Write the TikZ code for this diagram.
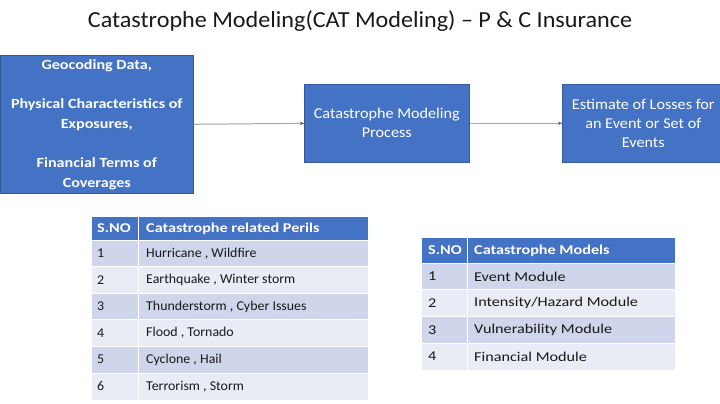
\documentclass[tikz,border=0pt]{standalone}
\usepackage{fontspec}
\setmainfont{Carlito}
\newfontfamily\titlefont[FakeStretch=1.05]{Carlito}
\newfontfamily\boxonefont[FakeStretch=1.15]{Carlito}
\newfontfamily\boxfont[FakeStretch=1.08]{Carlito}
\newfontfamily\tabonefont[FakeStretch=1.03]{Carlito}
\newfontfamily\tabwidefont[FakeStretch=1.2]{Carlito}
\usetikzlibrary{arrows.meta}
\definecolor{hdr}{HTML}{4472C4}
\definecolor{rowdark}{HTML}{CFD5EA}
\definecolor{rowlight}{HTML}{E9EBF5}
\definecolor{arrowgray}{HTML}{A6A6A6}
\tikzset{
  bluebox/.style={fill=hdr, draw=hdr!80!black, line width=0.6pt, text=white, align=center, inner sep=0pt},
  conn/.style={draw=arrowgray, line width=1pt, -{Stealth[length=4pt,width=3.5pt,color=gray!70!black]}},
  celltext/.style={anchor=west, inner sep=0pt, text=black!90},
  hdrtext/.style={anchor=west, inner sep=0pt, text=white},
}
\begin{document}
\begin{tikzpicture}[x=1pt,y=-1pt]
\useasboundingbox (0,0) rectangle (720,404);
\fill[white] (0,0) rectangle (720,404);

% title
\node[font=\titlefont\fontsize{23}{26}\selectfont, text=black!90, inner sep=0pt] (title) at (360,21) {Catastrophe Modeling(CAT Modeling) – P \& C Insurance};

% boxes
\node[bluebox, minimum width=193pt, minimum height=138pt, anchor=north west, font=\boxonefont\fontsize{14}{19.5}\selectfont\bfseries] (inputs) at (0,55)
 {Geocoding Data,\\[20pt] Physical Characteristics of\\ Exposures,\\[20pt] Financial Terms of\\ Coverages};
\node[bluebox, minimum width=165pt, minimum height=78pt, anchor=north west, font=\boxfont\fontsize{15}{19}\selectfont] (process) at (304,84)
 {Catastrophe Modeling\\ Process};
\node[bluebox, minimum width=162pt, minimum height=78pt, anchor=north west, font=\boxfont\fontsize{15}{19}\selectfont] (losses) at (562,84)
 {Estimate of Losses for\\ an Event or Set of\\ Events};

\draw[conn] (inputs.east) -- (process.west);
\draw[conn] (process.east) -- (losses.west);

% table 1
\fill[hdr] (92,217) rectangle (368,240);
\foreach \i/\c in {0/rowdark,1/rowlight,2/rowdark,3/rowlight,4/rowdark,5/rowlight}{
  \fill[\c] (92,{240+\i*26.6}) rectangle (368,{240+(\i+1)*26.6});
  \draw[white, line width=1pt] (92,{240+\i*26.6}) -- (368,{240+\i*26.6});
}
\draw[white, line width=1pt] (138,217) -- (138,400);
\node[hdrtext, font=\tabwidefont\fontsize{13.5}{15}\selectfont\bfseries] (t1h1) at (97,228.5) {S.NO};
\node[hdrtext, font=\tabwidefont\fontsize{13.5}{15}\selectfont\bfseries] (t1h2) at (146,228.5) {Catastrophe related Perils};
\foreach \i/\t in {1/{Hurricane , Wildfire},2/{Earthquake , Winter storm},3/{Thunderstorm , Cyber Issues},4/{Flood , Tornado},5/{Cyclone , Hail},6/{Terrorism , Storm}}{
  \node[celltext, font=\tabonefont\fontsize{13.5}{15}\selectfont] (t1n\i) at (97,{240+(\i-0.5)*26.6}) {\i};
  \node[celltext, font=\tabonefont\fontsize{13.5}{15}\selectfont] (t1t\i) at (146,{240+(\i-0.5)*26.6}) {\t};
}

% table 2
\fill[hdr] (422,238) rectangle (675,263);
\foreach \i/\c in {0/rowdark,1/rowlight,2/rowdark,3/rowlight}{
  \fill[\c] (422,{263+\i*26.75}) rectangle (675,{263+(\i+1)*26.75});
  \draw[white, line width=1pt] (422,{263+\i*26.75}) -- (675,{263+\i*26.75});
}
\draw[white, line width=1pt] (467,238) -- (467,370);
\node[hdrtext, font=\tabwidefont\fontsize{13.5}{15}\selectfont\bfseries] (t2h1) at (428,250.5) {S.NO};
\node[hdrtext, font=\tabwidefont\fontsize{13.5}{15}\selectfont\bfseries] (t2h2) at (474,250.5) {Catastrophe Models};
\foreach \i/\t in {1/{Event Module},2/{Intensity/Hazard Module},3/{Vulnerability Module},4/{Financial Module}}{
  \node[celltext, font=\tabwidefont\fontsize{13.5}{15}\selectfont] (t2n\i) at (428,{263+(\i-0.5)*26.75}) {\i};
  \node[celltext, font=\tabwidefont\fontsize{13.5}{15}\selectfont] (t2t\i) at (474,{263+(\i-0.5)*26.75}) {\t};
}
\end{tikzpicture}
\end{document}
